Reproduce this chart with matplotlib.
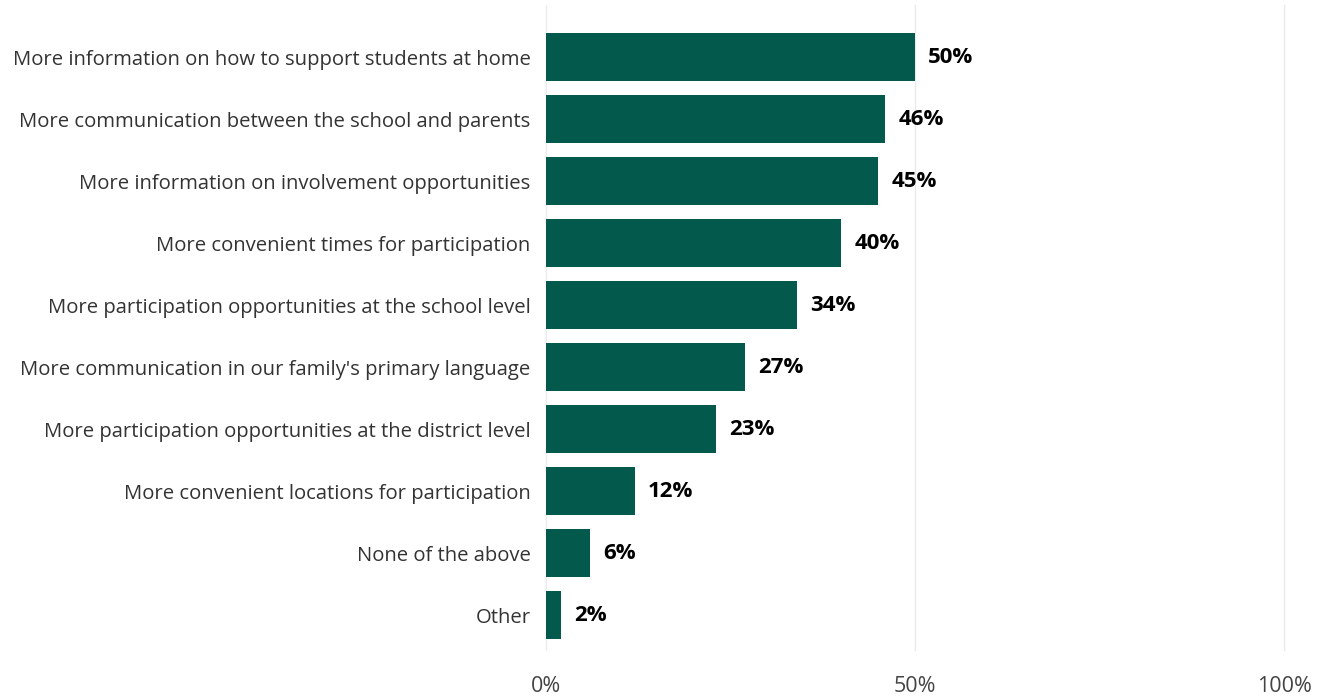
import matplotlib.pyplot as plt

plt.rcParams['font.family'] = ['Open Sans', 'DejaVu Sans']

# survey answers, share of respondents (%)
categories = [
    "More information on how to support students at home",
    "More communication between the school and parents",
    "More information on involvement opportunities",
    "More convenient times for participation",
    "More participation opportunities at the school level",
    "More communication in our family's primary language",
    "More participation opportunities at the district level",
    "More convenient locations for participation",
    "None of the above",
    "Other",
]
values = [50, 46, 45, 40, 34, 27, 23, 12, 6, 2]
xticks = [0, 50, 100]
xtick_labels = ["0%", "50%", "100%"]

bar_color = "#03594c"

fig = plt.figure(figsize=(13.32, 6.98), dpi=100)
ax = fig.add_axes([546 / 1332, 1 - 650 / 698, (1284 - 546) / 1332, 645 / 698])

pos = list(range(len(categories)))
ax.barh(pos, values, height=0.78, color=bar_color, zorder=3)

for y, v in zip(pos, values):
    ax.text(v + 1.8, y, f"{v}%", va="center", ha="left",
            fontsize=16, fontweight="bold", color="black")

ax.set_xlim(0, 100)
ax.set_ylim(len(categories) - 1 + 0.56, -0.84)
ax.set_yticks(pos)
ax.set_yticklabels(categories, fontsize=14.6, color="#333333")
ax.set_xticks(xticks)
ax.set_xticklabels(xtick_labels, fontsize=15.5, color="#444444")
ax.tick_params(axis="both", length=0)
ax.tick_params(axis="y", pad=11)
ax.tick_params(axis="x", pad=19)

ax.grid(axis="x", color="#ebebeb", linewidth=1, zorder=0)
for gl in ax.get_xgridlines():
    gl.set_clip_on(False)
for s in ax.spines.values():
    s.set_visible(False)

fig.savefig("out.png", dpi=100)
